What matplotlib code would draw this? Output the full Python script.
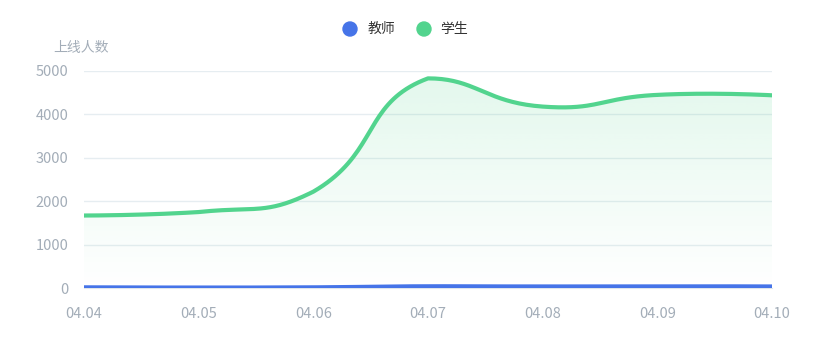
import numpy as np
import matplotlib
matplotlib.use("Agg")
import matplotlib.pyplot as plt
from matplotlib.patches import Polygon, Ellipse

plt.rcParams['font.family'] = ['Noto Sans CJK SC', 'DejaVu Sans']

dates = ['04.04', '04.05', '04.06', '04.07', '04.08', '04.09', '04.10']
teachers = [15, 10, 15, 40, 35, 40, 35]
students = [1670, 1750, 2220, 4830, 4180, 4450, 4440]

series_names = ['教师', '学生']
series_colors = ['#4674e8', '#52d48e']
axis_color = '#a3adb8'
grid_color = '#e6edf1'


def smooth_line(ax, x, y, smooth=0.5, n=40):
    """echarts-style bezier smoothing, done in pixel space, clamped to the points' bbox"""
    pts = ax.transData.transform(np.column_stack([x, y]))
    lo, hi = pts.min(axis=0), pts.max(axis=0)
    cps = [pts[0]]
    for i in range(1, len(pts) - 1):
        v = (pts[i + 1] - pts[i - 1]) * smooth
        d0 = np.linalg.norm(pts[i] - pts[i - 1])
        d1 = np.linalg.norm(pts[i + 1] - pts[i])
        s = d0 + d1
        cps.append(np.clip(pts[i] - v * d0 / s, lo, hi))
        cps.append(np.clip(pts[i] + v * d1 / s, lo, hi))
    cps.append(pts[-1])
    out = []
    for i in range(len(pts) - 1):
        p0, c0, c1, p1 = pts[i], cps[2 * i], cps[2 * i + 1], pts[i + 1]
        t = np.linspace(0, 1, n)[:, None]
        out.append((1 - t) ** 3 * p0 + 3 * (1 - t) ** 2 * t * c0 + 3 * (1 - t) * t ** 2 * c1 + t ** 3 * p1)
    data = ax.transData.inverted().transform(np.vstack(out))
    return data[:, 0], data[:, 1]


fig = plt.figure(figsize=(8.13, 3.6), dpi=100)
ax = fig.add_axes([84 / 813, 0.2, 688 / 813, 217 / 360])

x = np.arange(len(dates))
ax.set_xlim(x[0], x[-1])
ax.set_ylim(0, 5000)

for vals, color, alpha in [(teachers, series_colors[0], 0.12), (students, series_colors[1], 0.16)]:
    sx, sy = smooth_line(ax, x, vals)
    grad = np.linspace(0, 1, 256)
    img = np.zeros((256, 1, 4))
    img[..., :3] = matplotlib.colors.to_rgb(color)
    img[:, 0, 3] = grad * alpha
    im = ax.imshow(img, extent=[x[0], x[-1], 0, max(vals)], origin='lower', aspect='auto', zorder=1)
    poly = Polygon(np.column_stack([np.r_[sx, sx[-1], sx[0]], np.r_[sy, 0, 0]]),
                   closed=True, facecolor='none', edgecolor='none')
    ax.add_patch(poly)
    im.set_clip_path(poly)
    ax.plot(sx, sy, color=color, lw=3, solid_capstyle='round', zorder=3)

ax.set_xlim(x[0], x[-1])
ax.set_ylim(0, 5000)
ax.set_yticks(range(0, 5001, 1000))
ax.set_xticks(x)
ax.set_xticklabels(dates)
ax.grid(axis='y', color=grid_color, lw=1)
ax.set_axisbelow(True)
for s in ['top', 'right', 'left']:
    ax.spines[s].set_visible(False)
ax.spines['bottom'].set_color('#dfe5ea')
ax.tick_params(length=0, colors=axis_color, labelsize=10.5)
ax.tick_params(axis='y', pad=11)
ax.tick_params(axis='x', pad=14)

fig.text(81 / 813, 1 - 48 / 360, '上线人数', ha='center', va='center', color=axis_color, fontsize=10)

# legend
for cx, tx, name, color in [(350, 368, series_names[0], series_colors[0]),
                            (424, 440, series_names[1], series_colors[1])]:
    fig.patches.append(Ellipse((cx / 813, 1 - 29 / 360), 14 / 813, 14 / 360,
                               transform=fig.transFigure, color=color))
    fig.text(tx / 813, 1 - 29 / 360, name, ha='left', va='center', color='#333333', fontsize=10)

fig.savefig('out.png', dpi=100)
